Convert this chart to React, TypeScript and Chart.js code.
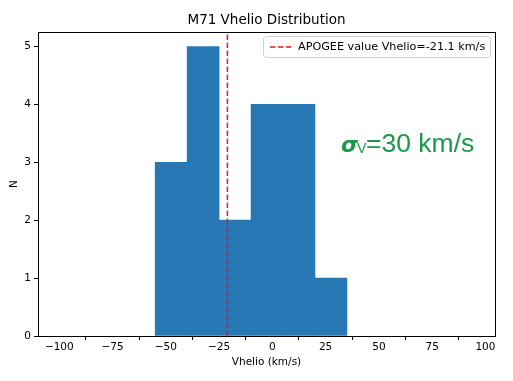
import React, { useEffect, useRef } from "react";
import { Chart, registerables } from "chart.js";

Chart.register(...registerables);

const binEdges = [-55, -40, -25, -10, 5, 20, 35];
const counts = [3, 5, 2, 4, 4, 1];
const apogeeValue = -21.1;
const xTicks = [-100, -75, -50, -25, 0, 25, 50, 75, 100];
const yTicks = [0, 1, 2, 3, 4, 5];
const titleText = "M71 Vhelio Distribution";
const legendText = "APOGEE value Vhelio=-21.1 km/s";
const xLabel = "Vhelio (km/s)";
const yLabel = "N";

const FONT = "'DejaVu Sans', sans-serif";

export default function App() {
  const ref = useRef<HTMLCanvasElement>(null);
  useEffect(() => {
    document.body.style.margin = "0";
    const canvas = ref.current!;
    const overlay = {
      id: "overlay",
      afterDraw(chart: any) {
        const ctx = chart.ctx;
        const a = chart.chartArea;
        ctx.save();
        // frame
        ctx.strokeStyle = "#000";
        ctx.lineWidth = 1;
        ctx.strokeRect(Math.round(a.left) + 0.5, Math.round(a.top) + 0.5, Math.round(a.right - a.left), Math.round(a.bottom - a.top));
        // title
        ctx.fillStyle = "#000";
        ctx.font = `13.5px ${FONT}`;
        ctx.textAlign = "center";
        ctx.textBaseline = "alphabetic";
        ctx.fillText(titleText, (a.left + a.right) / 2, 24);
        // legend
        const lx = 263, ly = 36, lw = 227, lh = 21;
        ctx.fillStyle = "rgba(255,255,255,0.8)";
        ctx.strokeStyle = "#d0d0d0";
        ctx.beginPath();
        (ctx as any).roundRect(lx + 0.5, ly + 0.5, lw, lh, 3);
        ctx.fill();
        ctx.stroke();
        ctx.strokeStyle = "#e41a1c";
        ctx.lineWidth = 1.5;
        ctx.setLineDash([5.5, 2.5]);
        ctx.beginPath();
        ctx.moveTo(270, 47);
        ctx.lineTo(291, 47);
        ctx.stroke();
        ctx.setLineDash([]);
        ctx.fillStyle = "#000";
        ctx.font = `11.2px ${FONT}`;
        ctx.textAlign = "left";
        ctx.textBaseline = "middle";
        ctx.fillText(legendText, 298, 47);
        // sigma annotation
        const green = "#1a9a48";
        ctx.fillStyle = green;
        ctx.textBaseline = "alphabetic";
        ctx.font = `italic bold 22px 'DejaVu Sans', sans-serif`;
        ctx.fillText("σ", 341, 152);
        ctx.font = `14px 'Liberation Sans', Arial, sans-serif`;
        ctx.fillText("V", 357, 153);
        ctx.font = `26.5px 'Liberation Sans', Arial, sans-serif`;
        ctx.fillText("=30 km/s", 366, 152);
        ctx.restore();
      },
    };

    const centers = counts.map((_, i) => (binEdges[i] + binEdges[i + 1]) / 2);
    const chart = new Chart(canvas, {
      type: "bar",
      data: {
        datasets: [
          {
            type: "line",
            data: [
              { x: apogeeValue, y: 0 },
              { x: apogeeValue, y: 5.25 },
            ],
            borderColor: "#e41a1c",
            borderWidth: 1.5,
            borderDash: [5.5, 2.5],
            pointRadius: 0,
            order: 0,
          } as any,
          {
            type: "bar",
            data: centers.map((c, i) => ({ x: c, y: counts[i] })),
            backgroundColor: "#2878b5",
            borderWidth: 0,
            barPercentage: 1,
            categoryPercentage: 1,
            order: 1,
          } as any,
        ],
      },
      options: {
        animation: false,
        responsive: false,
        maintainAspectRatio: false,
        layout: { padding: { top: 32, right: 18, left: 8, bottom: 12 } },
        plugins: { legend: { display: false }, tooltip: { enabled: false }, title: { display: false } },
        scales: {
          x: {
            type: "linear",
            min: -110,
            max: 104.5,
            offset: false,
            afterBuildTicks: (s: any) => {
              s.ticks = xTicks.map((v) => ({ value: v }));
            },
            afterFit: (s: any) => {
              s.height = 33;
            },
            grid: { drawOnChartArea: false, drawTicks: true, tickLength: 4, color: "#000" },
            border: { display: true, color: "#000" },
            ticks: {
              color: "#000",
              font: { family: FONT, size: 10.5 },
              padding: 1,
              maxRotation: 0,
              autoSkip: false,
              callback: (v: any) => (Number(v) < 0 ? "\u2212" + Math.abs(Number(v)) : String(v)),
            },
            title: { display: true, text: xLabel, color: "#000", font: { family: FONT, size: 10.5 }, padding: { top: 1, bottom: 0 } },
          },
          y: {
            type: "linear",
            min: 0,
            max: 5.25,
            afterBuildTicks: (s: any) => {
              s.ticks = yTicks.map((v) => ({ value: v }));
            },
            afterFit: (s: any) => {
              s.width = 30;
            },
            grid: { drawOnChartArea: false, drawTicks: true, tickLength: 4, color: "#000" },
            border: { display: true, color: "#000" },
            ticks: { color: "#000", font: { family: FONT, size: 10.5 }, padding: 3 },
            title: { display: true, text: yLabel, color: "#000", font: { family: FONT, size: 10.5 }, padding: { top: 0, bottom: 0 } },
          },
        },
      } as any,
      plugins: [overlay],
    });
    return () => chart.destroy();
  }, []);
  return (
    <div style={{ position: "fixed", left: 0, top: 0, width: 513, height: 381 }}>
      <canvas ref={ref} width={513} height={381} style={{ width: 513, height: 381 }} />
    </div>
  );
}
